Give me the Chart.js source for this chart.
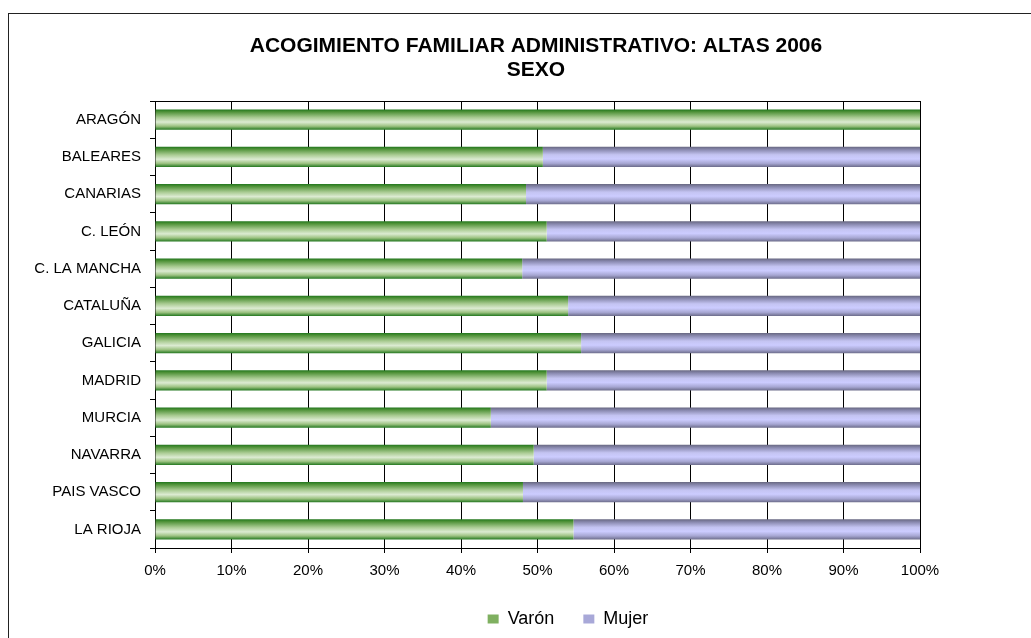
<!DOCTYPE html>
<html>
<head>
<meta charset="utf-8">
<script src="https://cdn.jsdelivr.net/npm/chart.js@4/dist/chart.umd.min.js"></script>
<style>
  html, body { margin: 0; padding: 0; background: #fff; overflow: hidden; }
  #frame { position: absolute; left: 8px; top: 13px; width: 1100px; height: 700px; border: 1px solid #222; box-sizing: border-box; }
  #c { position: absolute; left: 0; top: 0; }
</style>
</head>
<body>
<div id="frame"></div>
<canvas id="c" width="1031" height="638"></canvas>
<script>
const titleLines = ['ACOGIMIENTO FAMILIAR ADMINISTRATIVO: ALTAS 2006', 'SEXO'];
const categories = ['ARAGÓN', 'BALEARES', 'CANARIAS', 'C. LEÓN', 'C. LA MANCHA', 'CATALUÑA', 'GALICIA', 'MADRID', 'MURCIA', 'NAVARRA', 'PAIS VASCO', 'LA RIOJA'];
const seriesNames = ['Varón', 'Mujer'];
const varon = [100, 50.7, 48.5, 51.2, 48.0, 54.0, 55.7, 51.2, 43.9, 49.5, 48.1, 54.7];
const mujer = [0, 49.3, 51.5, 48.8, 52.0, 46.0, 44.3, 48.8, 56.1, 50.5, 51.9, 45.3];
const xTicks = [0, 10, 20, 30, 40, 50, 60, 70, 80, 90, 100];

const FONT = 'Arial, "Liberation Sans", sans-serif';
const BAR_PCT = 0.55;
const greenStops = [[0, '#1f751c'], [0.12, '#4f9238'], [0.4, '#a9cb92'], [0.62, '#dcebd2'], [0.82, '#9cc281'], [1, '#1f751c']];
const lilacStops = [[0, '#66667f'], [0.15, '#8a8ab0'], [0.4, '#c4c4f2'], [0.6, '#ccccff'], [0.82, '#a6a6d2'], [1, '#6a6a88']];

function barGradient(stops, fallback) {
  return function (ctx) {
    const chart = ctx.chart;
    const area = chart.chartArea;
    const ya = chart.scales && chart.scales.y;
    if (!area || !ya || ctx.dataIndex === undefined) return fallback;
    const c = ya.getPixelForValue(ctx.dataIndex);
    const band = (area.bottom - area.top) / categories.length;
    const h = band * BAR_PCT;
    const g = chart.ctx.createLinearGradient(0, c - h / 2, 0, c + h / 2);
    stops.forEach(s => g.addColorStop(s[0], s[1]));
    return g;
  };
}

const legendColors = ['#7fb060', '#a8a8d8'];

// shift title and legend horizontally so they centre like the original
const blockShift = {
  id: 'blockShift',
  afterLayout(chart) {
    const t = chart.titleBlock;
    if (t) { t.left += 71; t.right += 71; }
    const lg = chart.legend;
    if (lg) { lg.left += 103; lg.right += 103; }
  }
};

new Chart(document.getElementById('c'), {
  type: 'bar',
  data: {
    labels: categories,
    datasets: [
      { label: seriesNames[0], data: varon, backgroundColor: barGradient(greenStops, legendColors[0]), borderWidth: 0 },
      { label: seriesNames[1], data: mujer, backgroundColor: barGradient(lilacStops, legendColors[1]), borderWidth: 0 }
    ]
  },
  plugins: [blockShift],
  options: {
    responsive: false,
    animation: false,
    indexAxis: 'y',
    datasets: { bar: { barPercentage: BAR_PCT, categoryPercentage: 1 } },
    layout: { padding: { left: 10, right: 111, top: 0, bottom: 0 } },
    plugins: {
      title: {
        display: true,
        text: titleLines,
        color: '#000',
        font: { family: FONT, size: 21, weight: 'bold', lineHeight: '24px' },
        padding: { top: 34, bottom: 19 }
      },
      legend: {
        position: 'bottom',
        labels: {
          color: '#000',
          font: { family: FONT, size: 18 },
          boxWidth: 11,
          boxHeight: 9,
          padding: 29,
          generateLabels: () => seriesNames.map((n, i) => ({
            text: n, fillStyle: legendColors[i], strokeStyle: legendColors[i], lineWidth: 0, datasetIndex: i, hidden: false
          }))
        }
      },
      tooltip: { enabled: false }
    },
    scales: {
      x: {
        stacked: true,
        min: 0,
        max: 100,
        afterBuildTicks: (s) => { s.ticks = xTicks.map(v => ({ value: v })); },
        afterFit: (s) => { s.height = 33; },
        ticks: {
          color: '#000',
          padding: 9,
          maxRotation: 0,
          font: { family: FONT, size: 15 },
          callback: (v) => v + '%'
        },
        grid: { color: '#000', lineWidth: 1, tickLength: 5, drawTicks: true, tickColor: '#000' },
        border: { color: '#000', width: 1 }
      },
      y: {
        stacked: true,
        afterFit: (s) => { s.width = 145; },
        ticks: {
          color: '#000',
          padding: 9,
          font: { family: FONT, size: 15 }
        },
        grid: {
          offset: true,
          tickLength: 5,
          tickColor: '#000',
          color: (ctx) => ctx.index === 0 ? '#000' : 'rgba(0,0,0,0)'
        },
        border: { color: '#000', width: 1 }
      }
    }
  }
});
</script>
</body>
</html>
